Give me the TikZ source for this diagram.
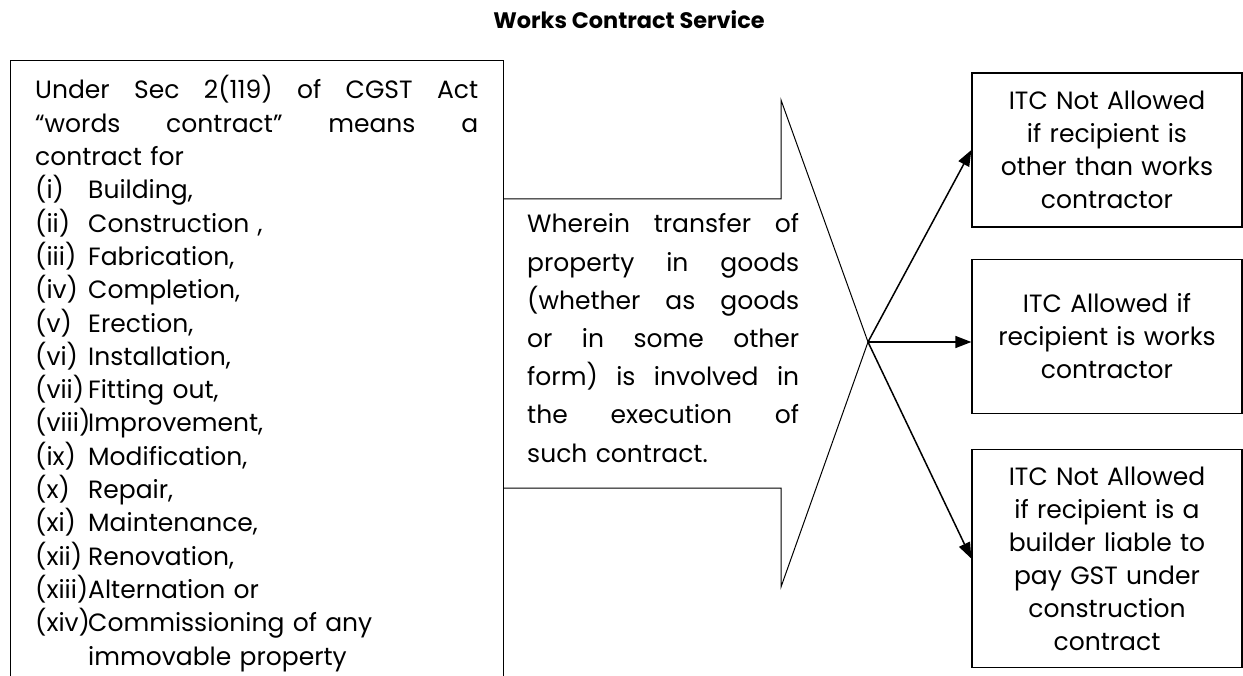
\documentclass[tikz,border=0pt]{standalone}
\usepackage{fontspec}
\setmainfont{Poppins}
\usetikzlibrary{positioning,arrows.meta}

% list item with hanging label, and a line spread to full width
\newcommand{\itm}[2]{\makebox[53pt][l]{#1}#2}
\newcommand{\jline}[2]{\leavevmode\hbox to #1{\spaceskip=0.3em plus 1fil\relax #2}}

\begin{document}
\begin{tikzpicture}[x=1pt,y=-1pt,
    block/.style={rectangle, draw, line width=1.3pt},
    outbox/.style={block, text width=250pt, inner xsep=10pt, minimum height=154pt, align=center, font=\fontsize{25}{33}\selectfont},
    arrow/.style={-{Triangle[length=16pt,width=12pt]}, line width=1.5pt}
]
    \clip (0,0) rectangle (1243,676);

    % Title
    \node[font=\bfseries\fontsize{22.4}{26}\selectfont, anchor=base] (title) at (629,29) {Works Contract Service};

    % Definition box, runs off the bottom of the page
    \node[block, anchor=north west, minimum width=493pt, minimum height=680pt] (defbox) at (10,60) {};
    \node[anchor=base west, text width=445pt, inner sep=0pt, align=left, font=\fontsize{25}{33.3}\selectfont] (deftext) at (35,99) {%
        \jline{443pt}{Under Sec 2(119) of CGST Act}\\
        \jline{443pt}{“words contract” means a}\\
        contract for\\
        \itm{(i)}{Building,}\\
        \itm{(ii)}{Construction ,}\\
        \itm{(iii)}{Fabrication,}\\
        \itm{(iv)}{Completion,}\\
        \itm{(v)}{Erection,}\\
        \itm{(vi)}{Installation,}\\
        \itm{(vii)}{Fitting out,}\\
        \itm{(viii)}{Improvement,}\\
        \itm{(ix)}{Modification,}\\
        \itm{(x)}{Repair,}\\
        \itm{(xi)}{Maintenance,}\\
        \itm{(xii)}{Renovation,}\\
        \itm{(xiii)}{Alternation or}\\
        \itm{(xiv)}{Commissioning of any}\\
        \itm{}{immovable property}};

    % Big arrow
    \coordinate (tip) at (868,342);
    \draw[line width=1pt] (503,199) -- (781,199) -- (781,100) -- (tip) -- (781,587) -- (781,488) -- (503,488);
    \node[anchor=base west, text width=272pt, inner sep=0pt, align=left, font=\fontsize{25}{38.2}\selectfont] (midtext) at (527,233) {%
        \jline{272pt}{Wherein transfer of}\\
        \jline{272pt}{property in goods}\\
        \jline{272pt}{(whether as goods}\\
        \jline{272pt}{or in some other}\\
        \jline{272pt}{form) is involved in}\\
        \jline{272pt}{the execution of}\\
        such contract.};

    % Outcomes
    \node[outbox] (box1) at (1107,150) {ITC Not Allowed\\if recipient is\\other than works\\contractor};
    \node[outbox, below=31pt of box1] (box2) {ITC Allowed if\\recipient is works\\contractor};
    \node[outbox, below=35pt of box2, minimum height=218pt] (box3) {ITC Not Allowed\\if recipient is a\\builder liable to\\pay GST under\\construction\\contract};

    \draw[arrow] (tip) -- (box1.west);
    \draw[arrow] (tip) -- (tip -| box2.west);
    \draw[arrow] (tip) -- (box3.west);
\end{tikzpicture}
\end{document}
